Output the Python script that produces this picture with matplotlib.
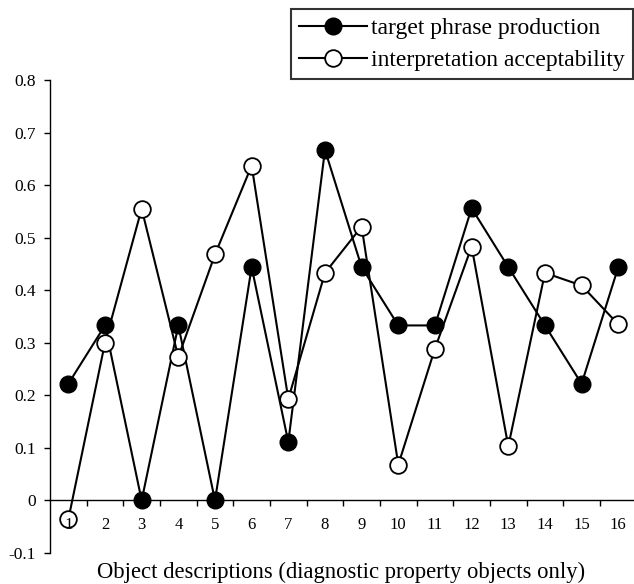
import matplotlib
matplotlib.use("Agg")
import matplotlib.pyplot as plt
from matplotlib.ticker import FixedLocator

plt.rcParams['font.family'] = ['Liberation Serif', 'DejaVu Serif']

categories = [str(i) for i in range(1, 17)]
production = [0.222, 0.333, 0.0, 0.333, 0.0, 0.444, 0.111, 0.667,
              0.444, 0.333, 0.333, 0.556, 0.444, 0.333, 0.222, 0.444]
acceptability = [-0.036, 0.300, 0.555, 0.273, 0.468, 0.637, 0.193, 0.433,
                 0.521, 0.068, 0.289, 0.483, 0.103, 0.433, 0.409, 0.335]
yticks = [-0.1, 0, 0.1, 0.2, 0.3, 0.4, 0.5, 0.6, 0.7, 0.8]
ytick_labels = ['-0.1', '0', '0.1', '0.2', '0.3', '0.4', '0.5', '0.6', '0.7', '0.8']

fig = plt.figure(figsize=(6.34, 5.84), dpi=100)
ax = fig.add_axes([50/634, 31/584, 586.6/634, 473/584])

x = list(range(1, 17))
ax.plot(x, production, '-o', color='black', lw=1.5, ms=12,
        mfc='black', mec='black', label='target phrase production', zorder=3)
ax.plot(x, acceptability, '-o', color='black', lw=1.5, ms=12,
        mfc='white', mec='black', mew=1.3, label='interpretation acceptability', zorder=3)

ax.set_xlim(0.5, 16.5)
ax.set_ylim(-0.1, 0.8)
ax.spines['top'].set_visible(False)
ax.spines['right'].set_visible(False)
ax.spines['bottom'].set_position(('data', 0))
ax.spines['bottom'].set_linewidth(1.0)
ax.spines['left'].set_linewidth(1.0)
ax.xaxis.set_zorder(4)

ax.set_yticks(yticks)
ax.set_yticklabels(ytick_labels, fontsize=12.5)
ax.tick_params(axis='y', direction='out', length=4, width=1, pad=6)

ax.set_xticks(x)
ax.set_xticklabels(categories, fontsize=12)
ax.tick_params(axis='x', which='major', length=0, pad=12)
ax.xaxis.set_minor_locator(FixedLocator([i + 0.5 for i in range(1, 16)]))
ax.tick_params(axis='x', which='minor', direction='out', length=4, width=1)

fig.text(341/634, 1 - 572/584, 'Object descriptions (diagnostic property objects only)',
         ha='center', va='center', fontsize=16.3)

leg = ax.legend(loc='upper right', bbox_to_anchor=(633/634, 1 - 9/584),
                bbox_transform=fig.transFigure, fontsize=17, frameon=True,
                fancybox=False, handlelength=2.9, handletextpad=0.15,
                borderpad=0.35, labelspacing=0.45, borderaxespad=0)
leg.get_frame().set_edgecolor('black')
leg.get_frame().set_linewidth(1.5)

fig.savefig('out.png', dpi=100)
